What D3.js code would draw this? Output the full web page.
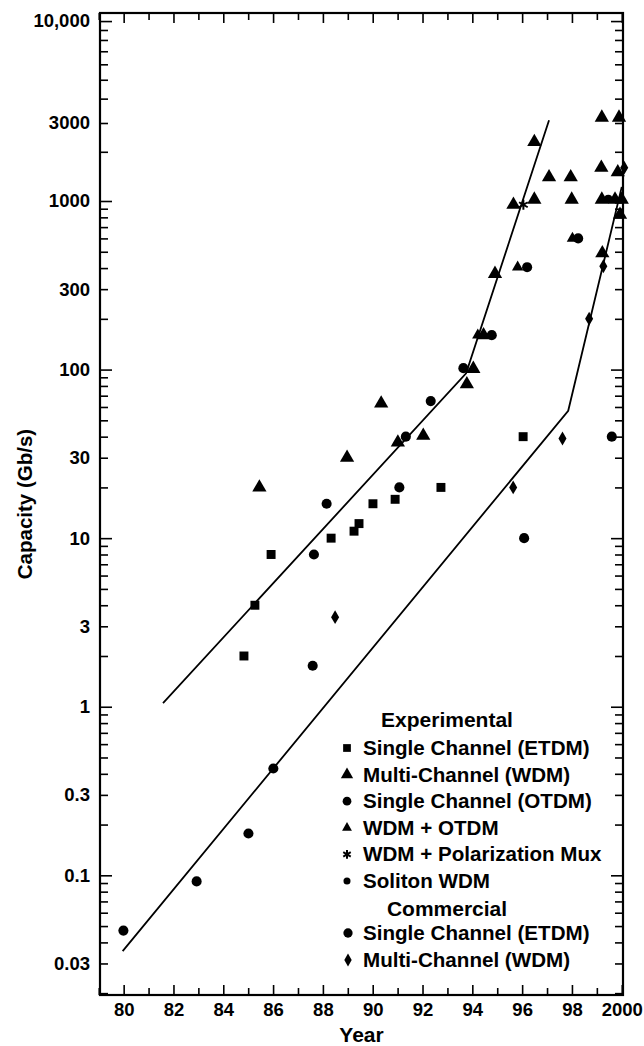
<!DOCTYPE html>
<html>
<head>
<meta charset="utf-8">
<script src="https://cdn.jsdelivr.net/npm/d3@7"></script>
<style>
  body { margin: 0; background: #fff; }
  text { font-family: "Liberation Sans", Arial, Helvetica, sans-serif; font-weight: bold; fill: #000; }
</style>
</head>
<body>
<svg id="chart" width="644" height="1046"></svg>
<script>
// ---- data (year, Gb/s) ----
const expEtdm = [[84.83, 2], [85.27, 4], [85.92, 8], [88.33, 10], [89.25, 11], [89.45, 12.2],
    [90.01, 16], [90.9, 17], [92.74, 20], [96.04, 40]];
const expWdm = [[85.45, 20], [88.97, 30], [90.34, 63], [91.01, 37], [92.03, 40.5], [93.78, 82],
    [94.04, 101], [94.45, 160], [94.91, 370], [95.65, 950], [96.49, 1020], [96.49, 2300],
    [97.08, 1400], [97.95, 1400], [97.99, 1020], [99.2, 3200], [99.89, 3200], [99.18, 1600],
    [99.84, 1500], [99.2, 1020], [99.73, 1020], [100.0, 1020], [99.93, 830], [99.22, 490]];
const expOtdm = [[87.64, 8], [88.15, 16], [91.07, 20], [91.33, 40], [92.33, 65], [93.64, 102],
    [94.78, 160], [96.2, 405], [98.25, 600]];
const wdmOtdm = [[94.22, 160], [95.82, 405], [98.02, 600]];
const wdmPolMux = [[96.05, 950]];
const solitonWdm = [[99.46, 1030]];
const comEtdm = [[79.99, 0.047], [82.93, 0.092], [85.01, 0.177], [86.01, 0.43], [87.59, 1.75],
    [96.08, 10], [99.6, 40]];
const comWdm = [[88.49, 3.4], [95.64, 20], [97.62, 39], [98.69, 200], [99.26, 410], [100.1, 1600]];

const trendExperimental = [[81.58, 1.05], [93.75, 95], [97.08, 3100]];
const trendCommercial = [[79.96, 0.0355], [97.85, 57], [100.0, 1220]];

const yLabels = [10000, 3000, 1000, 300, 100, 30, 10, 3, 1, 0.3, 0.1, 0.03];
const xLabels = [80, 82, 84, 86, 88, 90, 92, 94, 96, 98, 100];

const legendExperimental = ["Single Channel (ETDM)", "Multi-Channel (WDM)", "Single Channel (OTDM)",
    "WDM + OTDM", "WDM + Polarization Mux", "Soliton WDM"];
const legendCommercial = ["Single Channel (ETDM)", "Multi-Channel (WDM)"];

// ---- setup ----
const plotLeft = 100, plotRight = 623, plotTop = 13, plotBottom = 995;
const svg = d3.select("#chart");

const x = d3.scaleLinear().domain([79.05, 100.05]).range([plotLeft, plotRight]);
// the printed axis is slightly stretched in its top decade
const y = d3.scaleLog().domain([0.0195, 1000, 3000, 11000]).range([plotBottom, 201, 123, plotTop]);

const majorY = [0.1, 1, 10, 100, 1000, 10000];
const minorY = [];
for (let e = -2; e <= 3; e++) {
    for (let k = 2; k <= 9; k++) {
        const v = k * Math.pow(10, e);
        if (v > 0.0195 && v < 11000) minorY.push(v);
    }
}
const majorX = xLabels;
const minorX = d3.range(79, 101).filter(d => d % 2 === 1);

// ---- ticks ----
function tickGroup(axis, transform) {
    const g = svg.append("g").attr("transform", transform).call(axis);
    g.select(".domain").remove();
    g.selectAll("line").attr("stroke", "#000").attr("stroke-width", 1.6);
    return g;
}
tickGroup(d3.axisLeft(y).tickValues(majorY).tickSizeInner(-12).tickSizeOuter(0).tickFormat(""), `translate(${plotLeft},0)`);
tickGroup(d3.axisLeft(y).tickValues(minorY).tickSizeInner(-8).tickSizeOuter(0).tickFormat(""), `translate(${plotLeft},0)`);
tickGroup(d3.axisRight(y).tickValues(majorY).tickSizeInner(-12).tickSizeOuter(0).tickFormat(""), `translate(${plotRight},0)`);
tickGroup(d3.axisRight(y).tickValues(minorY).tickSizeInner(-8).tickSizeOuter(0).tickFormat(""), `translate(${plotRight},0)`);
tickGroup(d3.axisBottom(x).tickValues(majorX).tickSizeInner(-10).tickSizeOuter(0).tickFormat(""), `translate(0,${plotBottom})`);
tickGroup(d3.axisBottom(x).tickValues(minorX).tickSizeInner(-7).tickSizeOuter(0).tickFormat(""), `translate(0,${plotBottom})`);
tickGroup(d3.axisTop(x).tickValues(majorX).tickSizeInner(-10).tickSizeOuter(0).tickFormat(""), `translate(0,${plotTop})`);
tickGroup(d3.axisTop(x).tickValues(minorX).tickSizeInner(-7).tickSizeOuter(0).tickFormat(""), `translate(0,${plotTop})`);

// labels
const yLab = svg.append("g").attr("transform", `translate(${plotLeft},0)`)
    .call(d3.axisLeft(y).tickValues(yLabels).tickSize(0).tickPadding(10)
        .tickFormat(d => d >= 10000 ? d3.format(",")(d) : String(d)));
yLab.select(".domain").remove();
yLab.attr("font-family", null).attr("font-size", null);
yLab.selectAll("text").style("font-size", "18.5px");

const xLab = svg.append("g").attr("transform", `translate(0,${plotBottom})`)
    .call(d3.axisBottom(x).tickValues(xLabels).tickSize(0).tickPadding(8)
        .tickFormat(d => d === 100 ? "2000" : String(d)));
xLab.select(".domain").remove();
xLab.attr("font-family", null).attr("font-size", null);
xLab.selectAll("text").style("font-size", "18.5px");

// frame
svg.append("rect")
    .attr("x", plotLeft).attr("y", plotTop)
    .attr("width", plotRight - plotLeft).attr("height", plotBottom - plotTop)
    .attr("fill", "none").attr("stroke", "#000").attr("stroke-width", 2.2);

svg.append("text")
    .attr("x", (plotLeft + plotRight) / 2).attr("y", 1042)
    .attr("text-anchor", "middle").style("font-size", "21px")
    .text("Year");

svg.append("text")
    .attr("transform", `translate(32,${(plotTop + plotBottom) / 2}) rotate(-90)`)
    .attr("text-anchor", "middle").style("font-size", "20.5px")
    .text("Capacity (Gb/s)");

// ---- trend lines ----
const line = d3.line().x(d => x(d[0])).y(d => y(d[1]));
[trendExperimental, trendCommercial].forEach(t => {
    svg.append("path").datum(t)
        .attr("d", line)
        .attr("fill", "none").attr("stroke", "#000").attr("stroke-width", 1.8);
});

// ---- markers ----
const styles = {
    expEtdm: { type: d3.symbolSquare, size: 80 },
    expWdm: { type: d3.symbolTriangle, size: 88 },
    expOtdm: { type: d3.symbolCircle, size: 80 },
    wdmOtdm: { type: d3.symbolTriangle, size: 56 },
    wdmPolMux: { type: d3.symbolAsterisk || d3.symbolStar, size: 70, stroke: true },
    solitonWdm: { type: d3.symbolCircle, size: 52 },
    comEtdm: { type: d3.symbolCircle, size: 80 },
    comWdm: { type: d3.symbolDiamond, size: 56 }
};

function drawMarks(data, key) {
    const s = styles[key];
    const sym = d3.symbol().type(s.type).size(s.size);
    svg.append("g").selectAll("path")
        .data(data)
        .join("path")
        .attr("transform", d => `translate(${x(d[0])},${y(d[1])})`)
        .attr("d", sym)
        .attr("fill", s.stroke ? "none" : "#000")
        .attr("stroke", s.stroke ? "#000" : "none")
        .attr("stroke-width", s.stroke ? 2 : 0);
}
drawMarks(expEtdm, "expEtdm");
drawMarks(expWdm, "expWdm");
drawMarks(expOtdm, "expOtdm");
drawMarks(wdmOtdm, "wdmOtdm");
drawMarks(wdmPolMux, "wdmPolMux");
drawMarks(solitonWdm, "solitonWdm");
drawMarks(comEtdm, "comEtdm");
drawMarks(comWdm, "comWdm");

// ---- legend ----
const legend = svg.append("g");
const legKeys = ["expEtdm", "expWdm", "expOtdm", "wdmOtdm", "wdmPolMux", "solitonWdm"];
legend.append("text").attr("x", 447).attr("y", 727).attr("text-anchor", "middle")
    .style("font-size", "21px").text("Experimental");
legendExperimental.forEach((label, i) => {
    const yy = 748 + i * 26.6;
    const s = styles[legKeys[i]];
    legend.append("path")
        .attr("transform", `translate(347,${yy})`)
        .attr("d", d3.symbol().type(s.type).size(s.size * 0.75))
        .attr("fill", s.stroke ? "none" : "#000")
        .attr("stroke", s.stroke ? "#000" : "none")
        .attr("stroke-width", s.stroke ? 2 : 0);
    legend.append("text").attr("x", 363).attr("y", yy + 7)
        .style("font-size", "20.6px").text(label);
});
legend.append("text").attr("x", 447).attr("y", 916).attr("text-anchor", "middle")
    .style("font-size", "21px").text("Commercial");
const comKeys = ["comEtdm", "comWdm"];
legendCommercial.forEach((label, i) => {
    const yy = 933 + i * 27;
    const s = styles[comKeys[i]];
    legend.append("path")
        .attr("transform", `translate(348,${yy})`)
        .attr("d", d3.symbol().type(s.type).size(s.size * 0.85))
        .attr("fill", "#000");
    legend.append("text").attr("x", 363).attr("y", yy + 7)
        .style("font-size", "20.6px").text(label);
});
</script>
</body>
</html>
